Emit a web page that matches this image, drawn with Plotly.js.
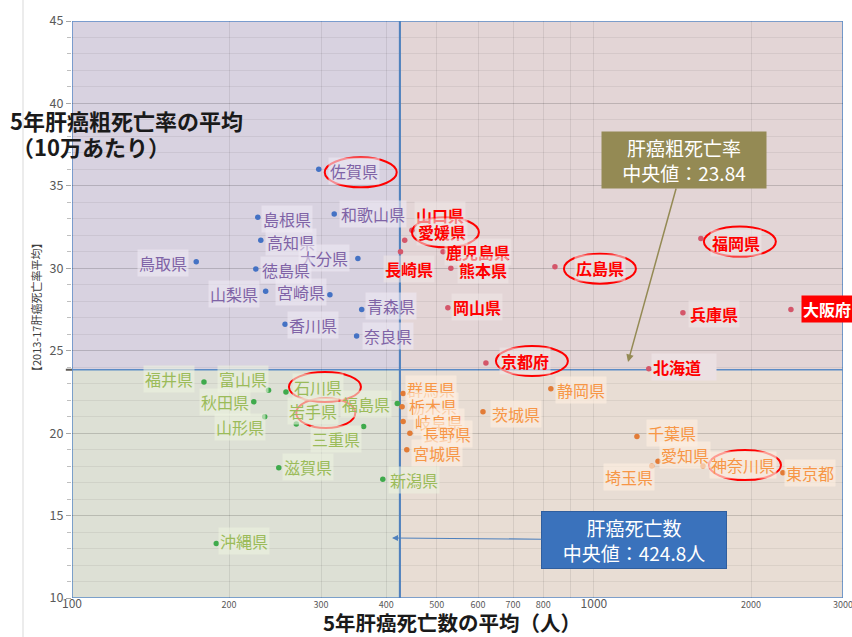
<!DOCTYPE html>
<html><head><meta charset="utf-8">
<script src="https://cdn.plot.ly/plotly-3.0.1.min.js"></script>
<style>html,body{margin:0;padding:0;background:#fff}#chart{width:852px;height:637px}</style>
</head><body><div id="chart"></div>
<script>
const medianDeaths = 424.8;
const medianRate = 23.84;

// upper-left quadrant (high rate, fewer deaths)
const blueNames  = ['佐賀県','島根県','和歌山県','高知県','大分県','鳥取県','徳島県','山梨県','宮崎県','青森県','香川県','奈良県'];
const blueDeaths = [297,227,318,230,353,173,225,235,312,359,256,351];
const blueRates  = [36.0,33.1,33.3,31.7,30.6,30.4,29.95,28.6,28.4,27.5,26.6,25.9];

// upper-right quadrant
const redNames  = ['山口県','愛媛県','長崎県','鹿児島県','熊本県','広島県','岡山県','福岡県','兵庫県','大阪府','京都府','北海道'];
const redDeaths = [434,448,426,514,532,842,525,1603,1481,2385,621,1274];
const redRates  = [31.7,32.3,31.0,31.0,30.0,30.1,27.6,31.8,27.3,27.5,24.25,23.9];

// lower-right quadrant
const orangeNames  = ['群馬県','栃木県','岐阜県','長野県','宮城県','茨城県','静岡県','千葉県','愛知県','埼玉県','神奈川県','東京都'];
const orangeDeaths = [431,429,431,444,438,613,827,1209,1327,1291,1618,2302];
const orangeRates  = [22.4,21.6,20.7,20.0,19.0,21.3,22.7,19.8,18.3,18.0,18.0,17.6];

// lower-left quadrant
const greenNames  = ['福井県','富山県','石川県','秋田県','山形県','福島県','岩手県','三重県','滋賀県','新潟県','沖縄県'];
const greenDeaths = [179,238,257,223,234,420,269,362,249,394,189];
const greenRates  = [23.1,22.6,22.5,21.9,21.0,21.8,20.55,20.4,17.9,17.2,13.3];

const xTickVals = [100,200,300,400,500,600,700,800,900,1000,2000,3000];
const xTickText = ['100','200','300','400','500','600','700','800','','1000','2000','3000'];
const yTickVals = [10,15,20,25,30,35,40,45];

// ---- label layout (pixel offsets from the dot: dx, dy(down), side) ----
const labelPlace = {
 '佐賀県':[11,2,'l'],'島根県':[5,2,'l'],'和歌山県':[7,0,'l'],'高知県':[6,2,'l'],'大分県':[-10,0,'r'],
 '鳥取県':[-9,1,'r'],'徳島県':[6,1,'l'],'山梨県':[-8,3,'r'],'宮崎県':[-5,-3,'r'],'青森県':[5,-4,'l'],
 '香川県':[4,1,'l'],'奈良県':[7,0,'l'],
 '山口県':[11,-25,'l'],'愛媛県':[6,2,'l'],'長崎県':[-16,17,'l'],'鹿児島県':[3,0,'l'],'熊本県':[8,2,'l'],
 '広島県':[21,1,'l'],'岡山県':[5,-1,'l'],'福岡県':[11,4,'l'],'兵庫県':[7,1,'l'],'大阪府':[12,-1,'l'],
 '京都府':[15,-2,'l'],'北海道':[4,-2,'l'],
 '群馬県':[4,-5,'l'],'栃木県':[7,-1,'l'],'岐阜県':[12,0,'l'],'長野県':[13,1,'l'],'宮城県':[6,3,'l'],
 '茨城県':[9,2,'l'],'静岡県':[6,1,'l'],'千葉県':[11,-3,'l'],'愛知県':[3,-6,'l'],'埼玉県':[1,11,'r'],
 '神奈川県':[8,-1,'l'],'東京都':[3,0,'l'],
 '福井県':[-11,-3,'r'],'富山県':[-2,-11,'r'],'石川県':[8,-5,'l'],'秋田県':[-5,0,'r'],'山形県':[-1,10,'r'],
 '福島県':[-7,1,'r'],'岩手県':[-7,-13,'l'],'三重県':[-4,12,'r'],'滋賀県':[5,-1,'l'],'新潟県':[7,1,'l'],
 '沖縄県':[4,-3,'l']
};
const ellipsePlace = {
 '佐賀県':[42,3],'愛媛県':[31,2],'広島県':[45,2],'福岡県':[39,3],'京都府':[46,-2],
 '石川県':[39,-5],'岩手県':[23,-11],'神奈川県':[42,-1]
};

const FONT = '"Noto Sans CJK JP", "Noto Sans", sans-serif';
const groups = [
 {names:blueNames, x:blueDeaths, y:blueRates, dot:'#4472C4', txt:'#7F63A6', bg:'rgba(238,234,244,0.6)', weight:'normal'},
 {names:redNames, x:redDeaths, y:redRates, dot:'#D4566A', txt:'#FF0000', bg:'rgba(240,232,232,0.55)', weight:'bold'},
 {names:orangeNames, x:orangeDeaths, y:orangeRates, dot:'#E27B36', txt:'#F79646', bg:'rgba(253,238,224,0.65)', weight:'normal'},
 {names:greenNames, x:greenDeaths, y:greenRates, dot:'#3FAA4C', txt:'#9BBB59', bg:'rgba(236,242,224,0.6)', weight:'normal'}
];

const traces = groups.map(g => ({
  type:'scatter', mode:'markers', x:g.x, y:g.y, hoverinfo:'skip',
  marker:{color:g.dot, size:5.5}
}));

const px2x = p => (p-72)/771;
const py2y = p => (598-p)/577;

const annotations = [];
const shapes = [];

// quadrant backgrounds
const quads = [
 {x0:100,x1:medianDeaths,y0:medianRate,y1:45,c:'#D8D2E0'},
 {x0:medianDeaths,x1:3000,y0:medianRate,y1:45,c:'#E3D5D6'},
 {x0:100,x1:medianDeaths,y0:10,y1:medianRate,c:'#DDE0D5'},
 {x0:medianDeaths,x1:3000,y0:10,y1:medianRate,c:'#E8DDD4'}
];
quads.forEach(q => shapes.push({type:'rect', xref:'x', yref:'y', x0:q.x0, x1:q.x1, y0:q.y0, y1:q.y1,
  fillcolor:q.c, line:{color:'#5B8BC6', width:1.5}, layer:'below'}));
shapes.push({type:'line', xref:'x', yref:'y', x0:medianDeaths, x1:medianDeaths, y0:10, y1:45,
  line:{color:'#4F81BD', width:2}, layer:'between'});
shapes.push({type:'line', xref:'paper', yref:'y', x0:-0.008, x1:1, y0:medianRate, y1:medianRate,
  line:{color:'#5E5A55', width:2}, layer:'between'});
shapes.push({type:'line', xref:'paper', yref:'paper', x0:px2x(23), x1:px2x(23), y0:py2y(637), y1:py2y(0),
  line:{color:'#D9D9D9', width:1}});

groups.forEach(g => {
  g.names.forEach((n,i) => {
    const p = labelPlace[n] || [4,0,'l'];
    const left = p[2] === 'l';
    const osaka = n === '大阪府';
    const hokkaido = n === '北海道';
    annotations.push({
      xref:'x', yref:'y', x:Math.log10(g.x[i]), y:g.y[i], text:n, showarrow:false,
      xanchor: left ? 'left' : 'right', yanchor:'middle',
      xshift: left ? p[0]-2 : p[0]+2, yshift: -p[1],
      font:{family:FONT, size:16, color: osaka ? '#FFFFFF' : g.txt, weight: osaka ? 'bold' : g.weight},
      bgcolor: osaka ? '#FF0000' : (hokkaido ? '#EBE0E2' : g.bg), borderpad:1,
      width: hokkaido ? 62 : undefined, align:'left'
    });
    if (ellipsePlace[n]) {
      const e = ellipsePlace[n];
      shapes.push({type:'circle', xref:'x', yref:'y', xsizemode:'pixel', ysizemode:'pixel',
        xanchor:g.x[i], yanchor:g.y[i], x0:e[0]-36, x1:e[0]+36, y0:-e[1]-15, y1:-e[1]+15,
        line:{color:'#FF0000', width:2}, fillcolor:'rgba(0,0,0,0)', layer:'above'});
    }
  });
});

// titles
annotations.push({xref:'paper', yref:'paper', x:px2x(8), y:py2y(120), xanchor:'left', yanchor:'middle',
  text:'5年肝癌粗死亡率の平均', showarrow:false, font:{family:FONT, size:22, color:'#1A1A1A', weight:'bold'}});
annotations.push({xref:'paper', yref:'paper', x:px2x(10), y:py2y(146), xanchor:'left', yanchor:'middle',
  text:'（10万あたり）', showarrow:false, font:{family:FONT, size:22, color:'#1A1A1A', weight:'bold'}});
annotations.push({xref:'paper', yref:'paper', x:px2x(322), y:py2y(622), xanchor:'left', yanchor:'middle',
  text:'5年肝癌死亡数の平均（人）', showarrow:false, borderpad:0,
  font:{family:FONT, size:20.5, color:'#1A1A1A', weight:'bold'}});
annotations.push({xref:'paper', yref:'paper', x:px2x(36), y:py2y(308), xanchor:'center', yanchor:'middle',
  text:'【2013-17肝癌死亡率平均】', textangle:-90, showarrow:false, font:{family:FONT, size:11, color:'#404040'}});

// callouts
annotations.push({xref:'paper', yref:'paper', x:px2x(628), y:py2y(362), axref:'pixel', ayref:'pixel',
  ax:56, ay:-202, text:'肝癌粗死亡率<br>中央値：23.84', showarrow:true, arrowhead:2, arrowsize:1, arrowwidth:1.5,
  arrowcolor:'#948A54', bgcolor:'#948A54', width:158, height:50, borderpad:3,
  font:{family:FONT, size:19, color:'#FFFFFF'}});
annotations.push({xref:'paper', yref:'paper', x:px2x(392), y:py2y(538), axref:'pixel', ayref:'pixel',
  ax:242, ay:2, text:'肝癌死亡数<br>中央値：424.8人', showarrow:true, arrowhead:2, arrowsize:1, arrowwidth:1.2,
  arrowcolor:'#4F81BD', bgcolor:'#3A72BC', bordercolor:'#2F5E9E', borderwidth:1, width:178, height:50, borderpad:3,
  font:{family:FONT, size:19, color:'#FFFFFF'}});

const tickText = xTickText.map(t => (t==='100'||t==='1000') ? '<span style="font-size:12px">'+t+'</span>' : t);

const layout = {
  width:852, height:637,
  margin:{l:72, r:9, t:21, b:39},
  paper_bgcolor:'#FFFFFF', plot_bgcolor:'#FFFFFF',
  showlegend:false,
  font:{family:FONT},
  xaxis:{type:'log', range:[2, Math.log10(3001)], tickvals:xTickVals, ticktext:tickText,
    tickfont:{size:9, color:'#595959'}, showgrid:true, gridcolor:'rgba(0,0,0,0.08)', zeroline:false,
    showline:false, ticks:'', fixedrange:true, ticklabeloverflow:'allow'},
  yaxis:{range:[10,45], tickvals:yTickVals, tickfont:{size:12.5, color:'#595959'},
    showgrid:true, gridcolor:'rgba(0,0,0,0.11)', zeroline:false, showline:false,
    ticks:'outside', ticklen:5, tickcolor:'#A6A6A6',
    minor:{dtick:1, showgrid:true, gridcolor:'rgba(0,0,0,0.06)', ticks:'outside', ticklen:4, tickcolor:'#BFBFBF'}},
  shapes:shapes, annotations:annotations
};

Plotly.newPlot('chart', traces, layout, {displayModeBar:false, staticPlot:true});
</script></body></html>
